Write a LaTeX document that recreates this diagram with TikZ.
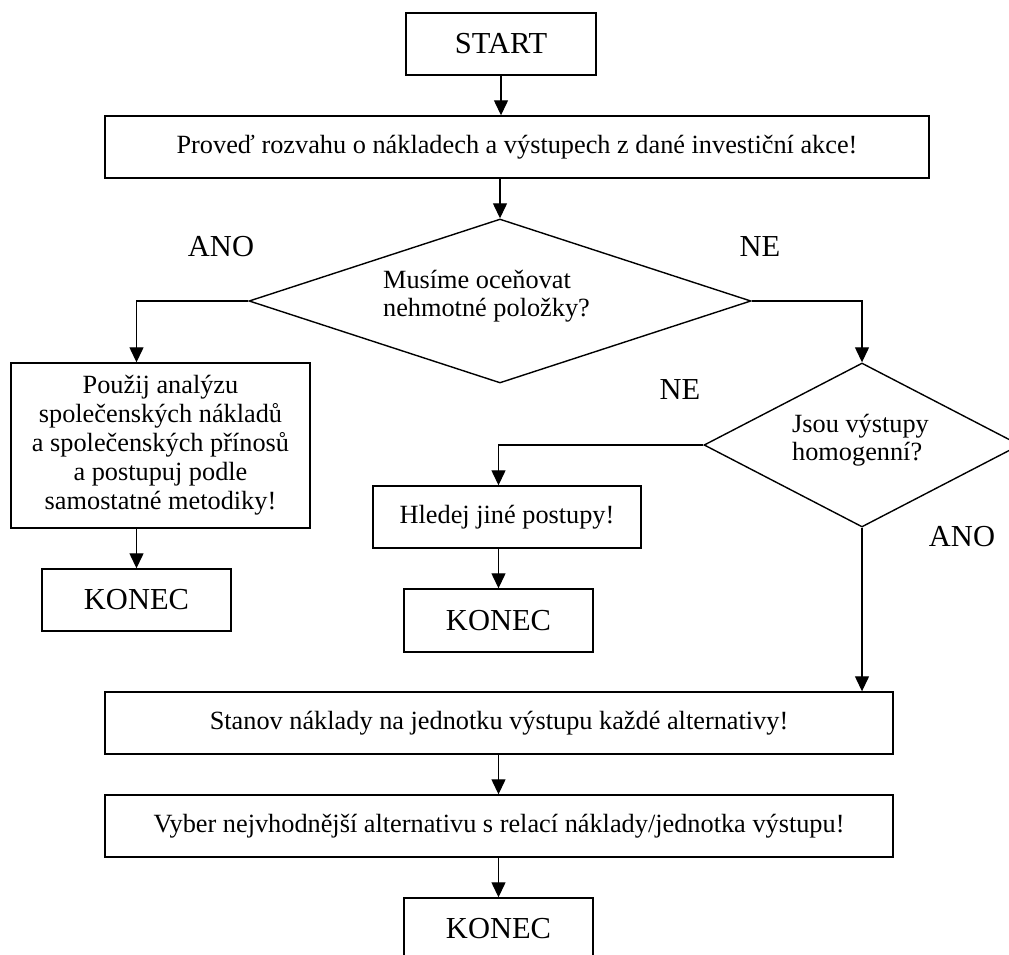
\documentclass[tikz,border=0pt]{standalone}
\usepackage{fontspec}
\setmainfont{Liberation Serif}
\usetikzlibrary{arrows.meta,shapes.geometric}

\begin{document}
\begin{tikzpicture}[x=1pt,y=-1pt,
  box/.style={draw, line width=1.4pt, rectangle, inner sep=0pt, align=center,
    font=\fontsize{26.3}{29}\selectfont},
  bigbox/.style={box, font=\fontsize{30.5}{34}\selectfont},
  lbl/.style={inner sep=0pt, font=\fontsize{30.5}{34}\selectfont},
  qtext/.style={inner sep=0pt, align=left, font=\fontsize{26.3}{28}\selectfont},
  decision/.style={draw, line width=1.4pt, diamond, inner sep=0pt, aspect=1},
  arr/.style={-{Triangle[length=15pt,width=14pt]}, line width=1.3pt}]

% page area
\path[use as bounding box, clip] (0,0) rectangle (1009,955);
\fill[white] (0,0) rectangle (1009,955);

% top part
\node[bigbox, minimum width=190, minimum height=62] (start) at (501,44) {START};
\node[box, minimum width=824, minimum height=62] (box2) at (517,147)
  {Proveď rozvahu o nákladech a výstupech z dané investiční akce!};

% first decision
\node[decision, minimum width=502, minimum height=164] (d1) at (500,301) {};
\node[qtext] (d1t) at (486.5,296) {Musíme oceňovat\\nehmotné položky?};
\node[lbl] (ano1) at (221,247) {ANO};
\node[lbl] (ne1) at (760,247) {NE};

% left branch
\node[box, minimum width=299, minimum height=165] (b3) at (160.5,445.5)
  {Použij analýzu\\společenských nákladů\\a společenských přínosů\\a postupuj podle\\samostatné metodiky!};
\node[bigbox, minimum width=189, minimum height=62] (k1) at (136.5,600) {KONEC};

% second decision
\node[decision, minimum width=316, minimum height=164] (d2) at (862,445) {};
\node[qtext] (d2t) at (860.5,440) {Jsou výstupy\\homogenní?};
\node[lbl] (ne2) at (680,390) {NE};
\node[lbl] (ano2) at (962,537) {ANO};

% middle branch
\node[box, minimum width=268, minimum height=62] (hl) at (507,517) {Hledej jiné postupy!};
\node[bigbox, minimum width=189, minimum height=63] (k2) at (498.5,620.5) {KONEC};

% bottom part
\node[box, minimum width=788, minimum height=62] (st) at (499,723)
  {Stanov náklady na jednotku výstupu každé alternativy!};
\node[box, minimum width=788, minimum height=62] (vy) at (499,826)
  {Vyber nejvhodnější alternativu s relací náklady/jednotka výstupu!};
\node[bigbox, minimum width=189, minimum height=62] (k3) at (498.5,929) {KONEC};

% connectors
\draw[arr] (start.south) -- (start.south |- box2.north);
\draw[arr] (d1.north |- box2.south) -- (d1.north);
\draw[arr] (d1.west) -| (k1.north |- b3.north);
\draw[arr] (k1.north |- b3.south) -- (k1.north);
\draw[arr] (d1.east) -| (d2.north);
\draw[arr] (d2.west) -| (k2.north |- hl.north);
\draw[arr] (k2.north |- hl.south) -- (k2.north);
\draw[arr] (d2.south) -- (d2.south |- st.north);
\draw[arr] (k3.north |- st.south) -- (k3.north |- vy.north);
\draw[arr] (k3.north |- vy.south) -- (k3.north);
\end{tikzpicture}
\end{document}
